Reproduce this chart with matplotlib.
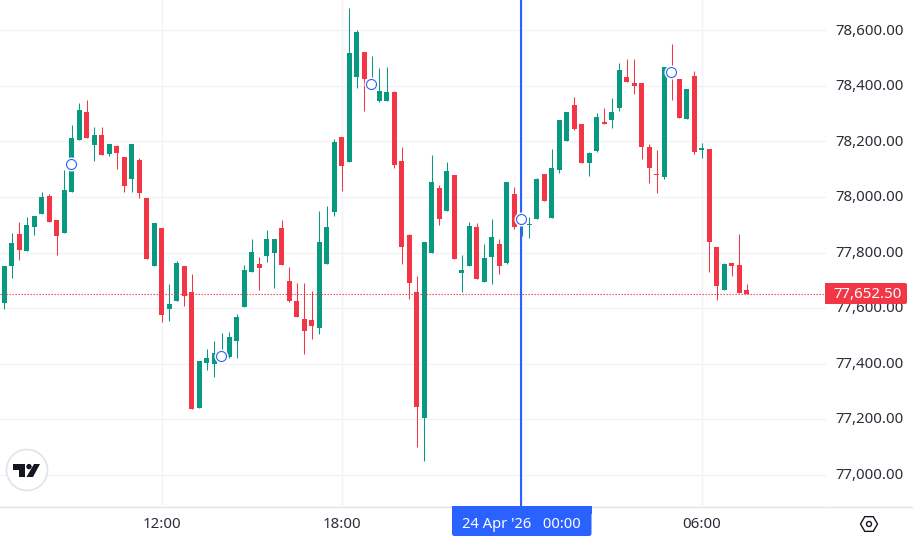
import matplotlib
matplotlib.use("Agg")
import matplotlib.pyplot as plt
from matplotlib.patches import Circle, FancyBboxPatch, Polygon, RegularPolygon, Rectangle
from matplotlib.transforms import ScaledTranslation

# 15 min candles
opens = [77619, 77752, 77867, 77806, 77892, 77939, 78004, 77917, 77871, 78018,
         78205, 78306, 78187, 78223, 78155, 78184, 78144, 78065, 78133, 77997,
         77752, 77889, 77597, 77626, 77752, 77658, 77241, 77403, 77399, 77416,
         77424, 77482, 77604, 77730, 77759, 77788, 77799, 77889, 77698, 77626,
         77561, 77557, 77529, 77759, 77946, 78216, 78126, 78432, 78522, 78388,
         78346, 78346, 78378, 78130, 77863, 77658, 77205, 77799, 78033, 77950,
         78079, 77727, 77752, 77892, 77694, 77784, 77831, 77763, 78011, 77899,
         77899, 77921, 78083, 77925, 78097, 78202, 78331, 78263, 78123, 78166,
         78270, 78277, 78321, 78432, 78411, 78411, 78180, 78083, 78072, 78463,
         78425, 78281, 78436, 78169, 78173, 77820, 77665, 77763, 77755, 77665]
highs = [77752, 77869, 77910, 77928, 77932, 78018, 78011, 77917, 78097, 78259,
         78339, 78349, 78252, 78252, 78191, 78187, 78144, 78191, 78141, 77997,
         77907, 77889, 77687, 77770, 77752, 77723, 77410, 77453, 77482, 77511,
         77514, 77579, 77755, 77849, 77784, 77881, 77849, 77917, 77748, 77691,
         77691, 77662, 77950, 77968, 78209, 78216, 78681, 78601, 78522, 78508,
         78465, 78468, 78382, 78180, 77867, 77716, 77838, 78151, 78043, 78126,
         78079, 77791, 77910, 77907, 77831, 77921, 77849, 78054, 78036, 77941,
         77928, 78069, 78083, 78173, 78277, 78306, 78360, 78263, 78162, 78303,
         78321, 78357, 78483, 78497, 78497, 78411, 78191, 78169, 78468, 78551,
         78425, 78389, 78454, 78195, 78173, 77820, 77763, 77763, 77867, 77687]
lows = [77597, 77709, 77773, 77806, 77863, 77939, 77910, 77791, 77871, 78018,
        78205, 78213, 78130, 78151, 78148, 78101, 78018, 78018, 77997, 77777,
        77752, 77550, 77554, 77626, 77608, 77237, 77241, 77377, 77352, 77416,
        77421, 77421, 77604, 77730, 77665, 77766, 77673, 77755, 77622, 77568,
        77435, 77489, 77507, 77759, 77932, 78022, 78126, 78393, 78310, 78388,
        78342, 78346, 78105, 77759, 77633, 77100, 77050, 77799, 77899, 77950,
        77777, 77658, 77752, 77705, 77694, 77687, 77723, 77759, 77885, 77860,
        77853, 77921, 77986, 77925, 78087, 78202, 78241, 78123, 78076, 78162,
        78263, 78249, 78310, 78414, 78371, 78137, 78051, 78015, 78065, 78349,
        78285, 78281, 78155, 78141, 77730, 77629, 77665, 77716, 77655, 77651]
closes = [77752, 77835, 77809, 77899, 77932, 78000, 77910, 77860, 78025, 78213,
          78313, 78213, 78223, 78151, 78191, 78159, 78040, 78191, 78015, 77777,
          77907, 77575, 77615, 77763, 77644, 77237, 77410, 77421, 77439, 77437,
          77496, 77568, 77737, 77802, 77745, 77849, 77849, 77755, 77626, 77568,
          77518, 77536, 77838, 77892, 78198, 78112, 78519, 78594, 78425, 78421,
          78382, 78378, 78115, 77820, 77691, 77244, 77838, 78054, 77921, 78094,
          77777, 77737, 77896, 77705, 77781, 77856, 77752, 78054, 77892, 77929,
          77903, 78065, 77986, 78105, 78277, 78306, 78245, 78123, 78159, 78288,
          78263, 78306, 78457, 78414, 78400, 78180, 78105, 78079, 78468, 78433,
          78285, 78389, 78162, 78177, 77838, 77680, 77759, 77752, 77655, 77652.5]

# event circles: candle index and price
event_idx = [9, 29, 49, 69, 89]
event_price = [78118, 77427, 78406, 77920, 78449]

price_ticks = [77000, 77200, 77400, 77600, 77800, 78000, 78200, 78400, 78600]
time_idx = [21, 45, 93]
time_labels = ["12:00", "18:00", "06:00"]
last_price = 77652.5
cross_idx = 69
cross_label = "24 Apr '26   00:00"

GREEN = "#089981"
RED = "#F23645"
BLUE = "#2962FF"
GRID = "#F2F3F5"
BORDER = "#E0E3EB"
TEXT = "#131722"
FONT = "Noto Sans"
PX = 1 / 7.5  # one pixel in candle units

W, H = 913, 542
fig = plt.figure(figsize=(W / 100, H / 100), dpi=100)
plt.rcParams["font.family"] = FONT

# main pane, 826x506 px
ax = fig.add_axes([0, 1 - 506 / H, 826 / W, 506 / H])
ax.set_xlim(-4.3 / 7.5, (826 - 4.3) / 7.5)
ax.set_ylim(76887.8, 78709.4)
for s in ax.spines.values():
    s.set_visible(False)
ax.set_axisbelow(True)
ax.grid(True, color=GRID, linewidth=1)

ax.set_xticks(time_idx + [cross_idx])
ax.set_xticklabels(time_labels + [""], fontsize=10.8, color=TEXT, alpha=0.9)
ax.tick_params(axis="x", length=0, pad=8)
ax.yaxis.tick_right()
ax.set_yticks(price_ticks)
ax.set_yticklabels([f"{p:,.2f}" for p in price_ticks], fontsize=10.8, color=TEXT, alpha=0.9)
ax.tick_params(axis="y", length=0, pad=6.5)
# price labels sit a pixel above their grid line
up = ScaledTranslation(0, 1.3 / 100, fig.dpi_scale_trans)
for lab in ax.get_yticklabels():
    lab.set_transform(lab.get_transform() + up)

xs = list(range(len(opens)))
colors = [GREEN if c >= o else RED for o, c in zip(opens, closes)]
ax.vlines(xs, lows, highs, colors=colors, linewidth=0.75, zorder=3)
bottoms = [min(o, c) for o, c in zip(opens, closes)]
heights = [max(abs(c - o), 4) for o, c in zip(opens, closes)]
ax.bar(xs, heights, bottom=bottoms, width=5 / 7.5, color=colors, linewidth=0, zorder=4)

ax.axhline(last_price, color=RED, linewidth=0.8, linestyle=(0, (1.2, 1.5)), zorder=5)
ax.axvline(cross_idx - PX, color=BLUE, linewidth=1.5, zorder=6)
event_x = [i - PX for i in event_idx]
ax.plot(event_x, event_price, linestyle="none", marker="o", markersize=8.6,
        markerfacecolor="white", markeredgecolor="white", markeredgewidth=1.5, zorder=7)
ax.plot(event_x, event_price, linestyle="none", marker="o", markersize=7.2,
        markerfacecolor="white", markeredgecolor=BLUE, markeredgewidth=0.8, zorder=8)

# overlay in pixel coordinates for tags, logo and axis chrome
ov = fig.add_axes([0, 0, 1, 1], facecolor="none")
ov.set_xlim(0, W)
ov.set_ylim(H, 0)
ov.axis("off")

ov.plot([0, 825], [506.5, 506.5], color=BORDER, linewidth=1)
ov.plot([827, W], [506.5, 506.5], color=BORDER, linewidth=1)

# last price tag, square on the left
ov.add_patch(FancyBboxPatch((825, 283), 82, 21, boxstyle="round,pad=0,rounding_size=2",
                            facecolor=RED, edgecolor="none", zorder=5))
ov.add_patch(Rectangle((825, 283), 6, 21, facecolor=RED, edgecolor="none", zorder=5))
ov.text(868, 293, f"{last_price:,.2f}", color="white", fontsize=10.8, ha="center",
        va="center_baseline", zorder=6)

# crosshair time tag, square on top
ov.add_patch(FancyBboxPatch((452, 506), 139.5, 30, boxstyle="round,pad=0,rounding_size=2.5",
                            facecolor=BLUE, edgecolor="none", zorder=5))
ov.add_patch(Rectangle((452, 506), 139.5, 8, facecolor=BLUE, edgecolor="none", zorder=5))
ov.text(521.5, 522.5, cross_label, color="white", fontsize=10.6, ha="center",
        va="center_baseline", zorder=6)

# logo
ov.add_patch(Circle((27, 470), 20.5, facecolor="white", edgecolor=BORDER, linewidth=1.2, zorder=5))
ov.add_patch(Polygon([(13, 464), (25, 464), (25, 477), (19, 477), (19, 470), (13, 470)],
                     facecolor=TEXT, edgecolor="none", zorder=6))
ov.add_patch(Circle((29, 466.6), 2.7, facecolor=TEXT, edgecolor="none", zorder=6))
ov.add_patch(Polygon([(34, 464), (40, 464), (33, 477), (26.5, 477)],
                     facecolor=TEXT, edgecolor="none", zorder=6))

# settings hexagon
ov.add_patch(RegularPolygon((869, 524), 6, radius=8.5, orientation=3.14159 / 6,
                            facecolor="none", edgecolor=TEXT, linewidth=1, zorder=5))
ov.add_patch(Circle((869, 524), 2.5, facecolor="none", edgecolor=TEXT, linewidth=1, zorder=5))

fig.savefig("out.png", dpi=100)
